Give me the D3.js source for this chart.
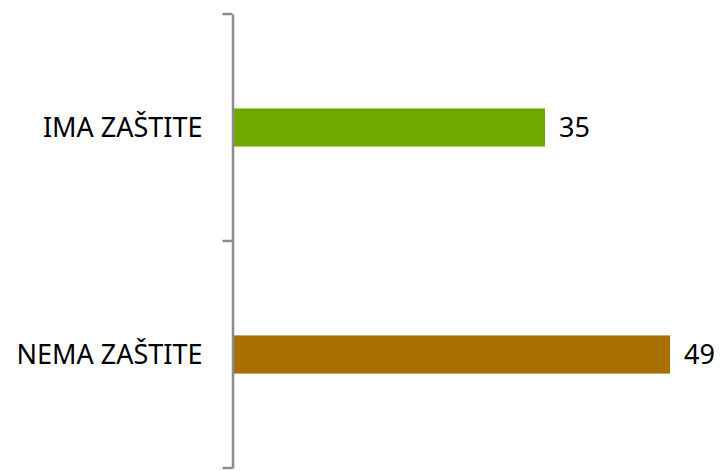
<!DOCTYPE html>
<html>
<head>
<meta charset="utf-8">
<script src="https://cdn.jsdelivr.net/npm/d3@7"></script>
<style>
  body { margin: 0; background: #fff; }
  text { font-family: "Noto Sans", "Open Sans", sans-serif; fill: #000; }
</style>
</head>
<body>
<svg id="chart" width="724" height="471"></svg>
<script>
const categories = ['IMA ZAŠTITE', 'NEMA ZAŠTITE']
const values = [35, 49]
const colours = ['#70A800', '#A87000']

const svg = d3.select('#chart')
const axisX = 232.5
const axisTop = 14
const axisBottom = 468
const fontSize = '27px'

const x = d3.scaleLinear().domain([0, 50]).range([axisX, axisX + 446.5])
const y = d3.scaleBand().domain(categories).range([axisTop, axisBottom])
const barH = y.bandwidth() * 0.168

// bars
svg.selectAll('rect.bar')
    .data(categories)
    .join('rect')
    .attr('class', 'bar')
    .attr('x', x(0))
    .attr('y', d => y(d) + y.bandwidth() / 2 - barH / 2)
    .attr('width', (d, i) => x(values[i]) - x(0))
    .attr('height', barH)
    .attr('fill', (d, i) => colours[i])

// value labels
svg.selectAll('text.val')
    .data(categories)
    .join('text')
    .attr('class', 'val')
    .attr('x', (d, i) => x(values[i]) + 14)
    .attr('y', d => y(d) + y.bandwidth() / 2)
    .attr('dy', '0.36em')
    .style('font-size', fontSize)
    .text((d, i) => values[i])

// y axis
const yAxis = svg.append('g')
    .attr('transform', `translate(${axisX}, 0)`)
    .call(d3.axisLeft(y).tickSize(0).tickPadding(30))
yAxis.select('.domain').attr('stroke', '#8c8c8c').attr('stroke-width', 2.5)
yAxis.selectAll('.tick text')
    .attr('dy', '0.34em')
    .attr('fill', '#000')
    .style('font-size', fontSize)
    .style('font-family', '"Noto Sans", sans-serif')

// boundary ticks between categories
const boundaries = [axisTop, ...categories.map(c => y(c) + y.step())]
yAxis.selectAll('line.bound')
    .data(boundaries)
    .join('line')
    .attr('class', 'bound')
    .attr('x1', -10)
    .attr('x2', 0)
    .attr('y1', d => d)
    .attr('y2', d => d)
    .attr('stroke', '#8c8c8c')
    .attr('stroke-width', 2.5)
</script>
</body>
</html>
